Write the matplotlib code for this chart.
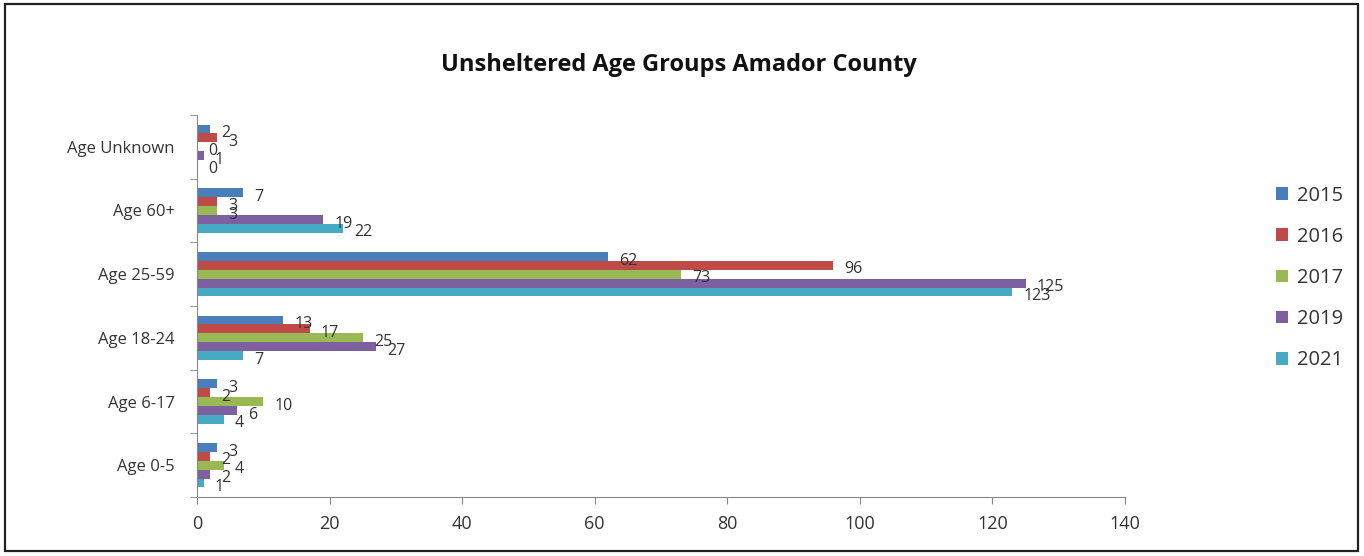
import numpy as np
import matplotlib.pyplot as plt
from matplotlib.patches import Rectangle

# Data
categories = ['Age 0-5', 'Age 6-17', 'Age 18-24', 'Age 25-59', 'Age 60+', 'Age Unknown']
years = ['2015', '2016', '2017', '2019', '2021']
v2015 = [3, 3, 13, 62, 7, 2]
v2016 = [2, 2, 17, 96, 3, 3]
v2017 = [4, 10, 25, 73, 3, 0]
v2019 = [2, 6, 27, 125, 19, 1]
v2021 = [1, 4, 7, 123, 22, 0]
series = [v2015, v2016, v2017, v2019, v2021]
colors = ['#4a7ebb', '#be4b48', '#98b954', '#7d60a0', '#46aac5']

plt.rcParams['font.family'] = ['Open Sans', 'DejaVu Sans']

fig = plt.figure(figsize=(13.64, 5.56), dpi=100)
fig.patches.append(Rectangle((5 / 1364, 5 / 556), 1353 / 1364, 547 / 556,
                             transform=fig.transFigure, fill=False,
                             edgecolor='#222222', linewidth=1.6))

ax = fig.add_axes([197 / 1364, (556 - 497) / 556, 928 / 1364, 382 / 556])

y = np.arange(len(categories))
h = 0.14
for i, (vals, col, yr) in enumerate(zip(series, colors, years)):
    pos = y + (2 - i) * h
    ax.barh(pos, vals, height=h, color=col, label=yr)
    for p, v in zip(pos, vals):
        ax.annotate(str(v), (v, p), xytext=(8, -3), textcoords='offset points',
                    ha='left', va='center', fontsize=11.5, color='#333333')

ax.set_xlim(0, 140)
ax.set_ylim(-0.5, len(categories) - 0.5)
ax.set_xticks(np.arange(0, 141, 20))
ax.set_yticks(y)
ax.set_yticklabels(categories)
ax.set_yticks(np.arange(-0.5, len(categories), 1), minor=True)
ax.tick_params(axis='y', which='major', length=0, pad=16, labelsize=12, labelcolor='#333333')
ax.tick_params(axis='y', which='minor', length=5, color='#888888', direction='out')
ax.tick_params(axis='x', length=5, color='#888888', labelsize=13, labelcolor='#333333', pad=8)

for s in ['top', 'right']:
    ax.spines[s].set_visible(False)
for s in ['left', 'bottom']:
    ax.spines[s].set_color('#888888')

fig.text(0.4975, 0.883, 'Unsheltered Age Groups Amador County',
         ha='center', va='center', fontsize=17, fontweight='bold', color='#111111')

handles, labels = ax.get_legend_handles_labels()
fig.legend(handles, labels, loc='center left', bbox_to_anchor=(1258 / 1364, 278 / 556),
           frameon=False, fontsize=14.5, handlelength=0.6, handleheight=0.6,
           labelspacing=1.05, handletextpad=0.45, labelcolor='#333333')

fig.savefig('out.png', dpi=100)
